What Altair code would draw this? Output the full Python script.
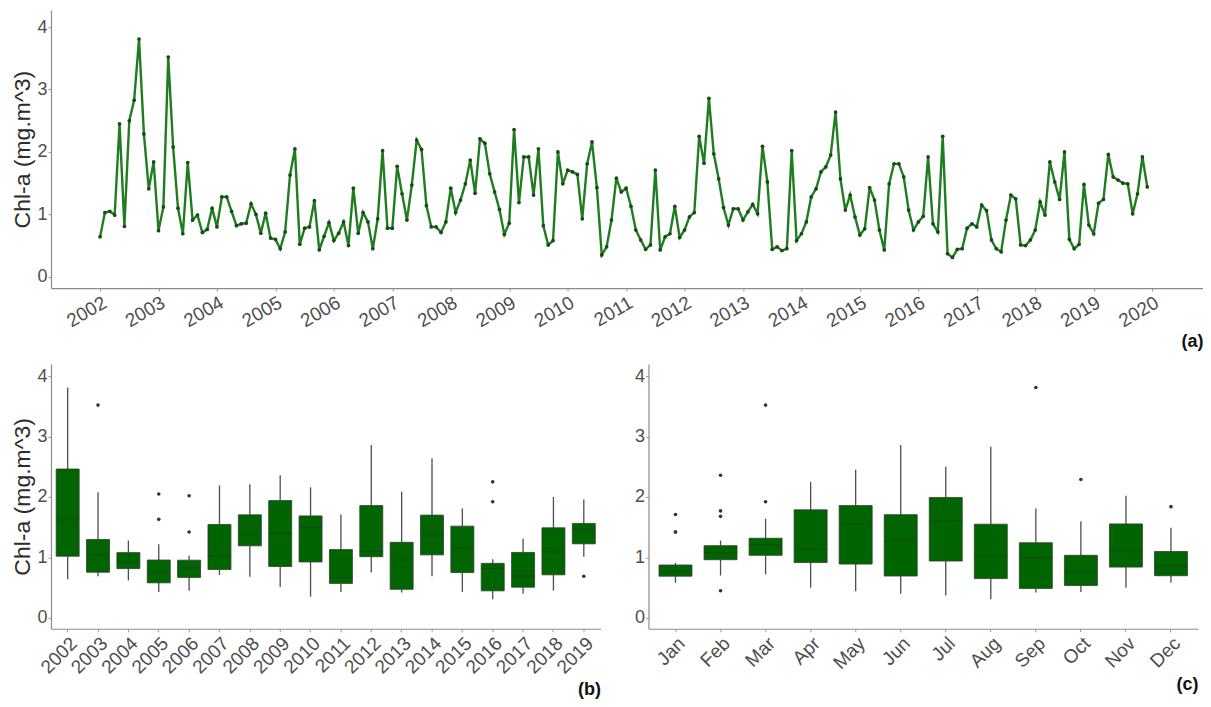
import altair as alt
import pandas as pd

# ---------------- data (monthly Chl-a, Jan..Dec) ----------------
years = list(range(2002, 2020))
months = ["Jan", "Feb", "Mar", "Apr", "May", "Jun",
          "Jul", "Aug", "Sep", "Oct", "Nov", "Dec"]

chl_2002 = [0.64, 1.03, 1.05, 0.99, 2.45, 0.81, 2.50, 2.83, 3.81, 2.29, 1.41, 1.84]
chl_2003 = [0.74, 1.12, 3.52, 2.08, 1.10, 0.69, 1.83, 0.91, 0.99, 0.71, 0.76, 1.10]
chl_2004 = [0.80, 1.28, 1.28, 1.05, 0.82, 0.85, 0.86, 1.17, 1.00, 0.70, 1.02, 0.62]
chl_2005 = [0.60, 0.45, 0.72, 1.63, 2.05, 0.52, 0.78, 0.80, 1.22, 0.43, 0.65, 0.87]
chl_2006 = [0.58, 0.70, 0.88, 0.50, 1.42, 0.70, 1.03, 0.88, 0.45, 0.93, 2.02, 0.78]
chl_2007 = [0.78, 1.77, 1.33, 0.91, 1.47, 2.19, 2.04, 1.14, 0.80, 0.80, 0.71, 0.88]
chl_2008 = [1.42, 1.03, 1.23, 1.49, 1.87, 1.34, 2.21, 2.14, 1.65, 1.36, 1.08, 0.68]
chl_2009 = [0.86, 2.36, 1.19, 1.92, 1.92, 1.31, 2.05, 0.82, 0.51, 0.58, 2.00, 1.49]
chl_2010 = [1.71, 1.68, 1.64, 0.93, 1.81, 2.16, 1.43, 0.35, 0.48, 0.91, 1.58, 1.36]
chl_2011 = [1.42, 1.13, 0.75, 0.59, 0.44, 0.51, 1.71, 0.43, 0.64, 0.69, 1.13, 0.63]
chl_2012 = [0.75, 0.96, 1.03, 2.25, 1.82, 2.86, 1.97, 1.57, 1.11, 0.83, 1.09, 1.09]
chl_2013 = [0.91, 1.04, 1.16, 1.01, 2.09, 1.52, 0.44, 0.48, 0.42, 0.45, 2.02, 0.58]
chl_2014 = [0.69, 0.88, 1.28, 1.41, 1.68, 1.76, 1.95, 2.64, 1.57, 1.07, 1.31, 0.96]
chl_2015 = [0.67, 0.77, 1.43, 1.23, 0.75, 0.43, 1.49, 1.81, 1.81, 1.60, 1.07, 0.75]
chl_2016 = [0.88, 0.97, 1.92, 0.85, 0.72, 2.25, 0.37, 0.31, 0.44, 0.45, 0.78, 0.85]
chl_2017 = [0.80, 1.15, 1.06, 0.59, 0.45, 0.40, 0.91, 1.31, 1.25, 0.51, 0.50, 0.59]
chl_2018 = [0.75, 1.20, 0.99, 1.84, 1.52, 1.24, 2.00, 0.60, 0.45, 0.52, 1.48, 0.83]
chl_2019 = [0.69, 1.18, 1.24, 1.96, 1.60, 1.55, 1.50, 1.49, 1.01, 1.33, 1.92, 1.44]

series = [chl_2002, chl_2003, chl_2004, chl_2005, chl_2006, chl_2007,
          chl_2008, chl_2009, chl_2010, chl_2011, chl_2012, chl_2013,
          chl_2014, chl_2015, chl_2016, chl_2017, chl_2018, chl_2019]

year_ticks = list(range(2002, 2021))
y_ticks = [0, 1, 2, 3, 4]

rows = []
for yr, vals in zip(years, series):
    for m, v in enumerate(vals):
        rows.append({"t": yr + m / 12.0, "year": str(yr), "month": months[m], "value": v})
df = pd.DataFrame(rows)

FONT = "Liberation Sans"
LINE_GREEN = "#1f7d1f"
BOX_GREEN = "#006400"

ytitle = "Chl-a (mg.m^3)"

# ---------------- panel (a): time series ----------------
base_a = alt.Chart(df).encode(
    x=alt.X("t:Q",
            scale=alt.Scale(domain=[2001.16, 2020.87], nice=False, zero=False),
            axis=alt.Axis(values=year_ticks, format="d", labelAngle=330,
                          labelAlign="right", labelBaseline="top",
                          labelFontSize=19, labelPadding=2,
                          title="(a)", titleAnchor="end", titleFontWeight="bold",
                          titleColor="#111111", titleFontSize=18, titlePadding=2)),
    y=alt.Y("value:Q",
            scale=alt.Scale(domain=[-0.18, 4.27], nice=False, zero=False),
            axis=alt.Axis(values=y_ticks, title=ytitle)),
)
line_a = base_a.mark_line(color=LINE_GREEN, strokeWidth=2.4)
pts_a = base_a.mark_circle(color="#174a17", size=14, opacity=1)
panel_a = (line_a + pts_a).properties(width=1153, height=278)

box_parts = dict(
    extent=1.5,
    box={"fill": BOX_GREEN, "stroke": "#2f3f2f", "strokeWidth": 0.8},
    median={"color": "#243824", "strokeWidth": 2},
    rule={"color": "#4d4d4d", "strokeWidth": 1.3},
    outliers={"color": "#333333", "size": 13, "filled": True, "opacity": 1},
)

# ---------------- panel (b): yearly boxplots ----------------
panel_b = alt.Chart(df).mark_boxplot(size=23, **box_parts).encode(
    x=alt.X("year:N", sort=[str(y) for y in years],
            scale=alt.Scale(paddingInner=0, paddingOuter=0.05),
            axis=alt.Axis(labelAngle=315, labelAlign="right", labelBaseline="top",
                          labelFontSize=19, labelPadding=2,
                          title="(b)", titleAnchor="end", titleFontWeight="bold",
                          titleColor="#111111", titleFontSize=18, titlePadding=3)),
    y=alt.Y("value:Q",
            scale=alt.Scale(domain=[-0.18, 4.2], nice=False, zero=False),
            axis=alt.Axis(values=y_ticks, title=ytitle)),
).properties(width=550, height=265)

# ---------------- panel (c): monthly boxplots ----------------
panel_c = alt.Chart(df).mark_boxplot(size=33, **box_parts).encode(
    x=alt.X("month:N", sort=months,
            scale=alt.Scale(paddingInner=0, paddingOuter=0.1),
            axis=alt.Axis(labelAngle=315, labelAlign="right", labelBaseline="top",
                          labelFontSize=19, labelPadding=2,
                          title="(c)", titleAnchor="end", titleFontWeight="bold",
                          titleColor="#111111", titleFontSize=18, titlePadding=3)),
    y=alt.Y("value:Q",
            scale=alt.Scale(domain=[-0.18, 4.2], nice=False, zero=False),
            axis=alt.Axis(values=y_ticks, title=None)),
).properties(width=550, height=265)

chart = alt.vconcat(
    panel_a,
    alt.hconcat(panel_b, panel_c, spacing=33),
    spacing=13,
).properties(
    padding={"left": 3, "top": 2, "right": 0, "bottom": 0},
    background="white",
).configure_view(
    stroke=None
).configure_axis(
    grid=False,
    domainColor="#8c8c8c",
    domainWidth=1.2,
    tickColor="#9a9a9a",
    tickSize=3,
    labelColor="#4d4d4d",
    labelFont=FONT,
    labelFontSize=18,
    titleFont=FONT,
    titleFontSize=23,
    titleFontWeight="normal",
    titleColor="#2b2b2b",
    titlePadding=2,
    labelPadding=1,
)

chart.save("out.html", embed_options={"renderer": "svg", "actions": False})
